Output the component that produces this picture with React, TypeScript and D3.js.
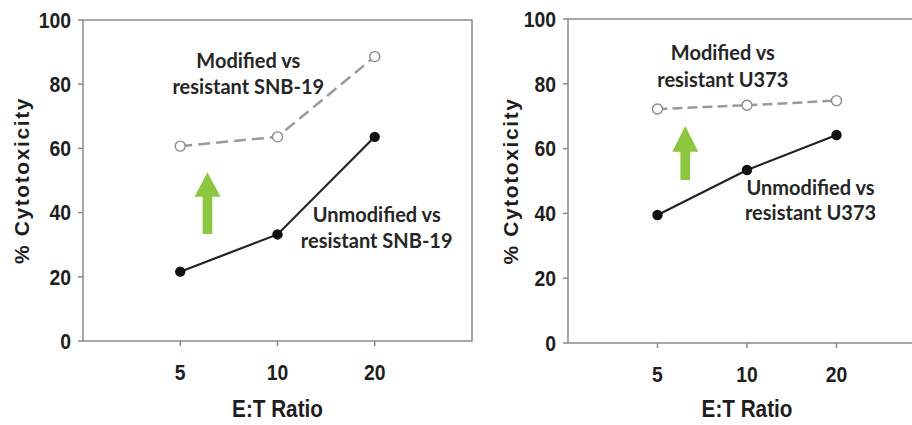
import React from "react";
import * as d3 from "d3";

const ratios = ["5", "10", "20"];
const yTicks = [0, 20, 40, 60, 80, 100];
const snbUnmodified = [21.6, 33.2, 63.6];
const snbModified = [60.7, 63.6, 88.6];
const u373Unmodified = [39.5, 53.4, 64.2];
const u373Modified = [72.2, 73.4, 74.8];
const snbLabels = ["Modified vs", "resistant SNB-19", "Unmodified vs", "resistant SNB-19"];
const u373Labels = ["Modified vs", "resistant U373", "Unmodified vs", "resistant U373"];
const yTitle = "% Cytotoxicity";
const xTitle = "E:T Ratio";

type Ann = { i: number; v: number; gap: number };
type PanelProps = {
  x0: number; x1: number; y0: number; y1: number; yTitleX: number; xTitleY: number;
  unmod: number[]; mod: number[]; labels: string[];
  modAnn: Ann; unmodAnn: Ann;
  arrow: { i: number; tip: number; base: number; bottom: number };
  dash: string;
};

const AXIS = "#8a8a8a";
const TXT = "#1e1e1e";
const tickFont = "'Liberation Sans', Arial, sans-serif";
const annFont = "Lato, 'Open Sans', sans-serif";

function Panel(p: PanelProps) {
  const xi = d3.scaleLinear().domain([-1, ratios.length]).range([p.x0, p.x1]);
  const y = d3.scaleLinear().domain([0, 100]).range([p.y1, p.y0]);
  const line = d3.line<number>().x((_, i) => xi(i)).y((v) => y(v));
  const shaftHalf = 4.8;
  const headHalf = 13;
  const ax = xi(p.arrow.i);
  const arrowPath = `M${ax},${y(p.arrow.tip)} L${ax + headHalf},${y(p.arrow.base)} L${ax + shaftHalf},${y(p.arrow.base)} L${ax + shaftHalf},${y(p.arrow.bottom)} L${ax - shaftHalf},${y(p.arrow.bottom)} L${ax - shaftHalf},${y(p.arrow.base)} L${ax - headHalf},${y(p.arrow.base)} Z`;
  const annStyle = { fontFamily: annFont, fontWeight: 700, fontSize: 20, fill: "#262626" } as const;
  return (
    <g>
      <rect x={p.x0} y={p.y0} width={p.x1 - p.x0} height={p.y1 - p.y0} fill="none" stroke={AXIS} strokeWidth={1.5} />
      {yTicks.map((t) => (
        <g key={t}>
          <line x1={p.x0 - 5} x2={p.x0} y1={y(t)} y2={y(t)} stroke={AXIS} strokeWidth={1.5} />
          <text transform={`translate(${p.x0 - 12},${y(t)}) scale(0.9,1)`} dy="0.36em" textAnchor="end" fontFamily={tickFont} fontWeight={700} fontSize={21.5} fill={TXT}>{t}</text>
        </g>
      ))}
      {ratios.map((r, i) => (
        <g key={r}>
          <line x1={xi(i)} x2={xi(i)} y1={p.y1} y2={p.y1 + 5} stroke={AXIS} strokeWidth={1.5} />
          <text transform={`translate(${xi(i)},${p.y1 + 31}) scale(0.9,1)`} dy="0.36em" textAnchor="middle" fontFamily={tickFont} fontWeight={700} fontSize={21.5} fill={TXT}>{r}</text>
        </g>
      ))}
      <text transform={`translate(${xi(1)},${p.xTitleY}) scale(0.9,1)`} dy="0.36em" textAnchor="middle" fontFamily={tickFont} fontWeight={700} fontSize={23} fill={TXT}>{xTitle}</text>
      <text transform={`translate(${p.yTitleX},${(p.y0 + p.y1) / 2}) rotate(-90)`} dy="0.36em" textAnchor="middle" fontFamily={tickFont} fontWeight={700} fontSize={21} letterSpacing={1.6} fill={TXT}>{yTitle}</text>
      <path d={line(p.mod) || ""} fill="none" stroke="#9a9a9a" strokeWidth={2.5} strokeDasharray={p.dash} />
      <path d={line(p.unmod) || ""} fill="none" stroke="#222" strokeWidth={2.2} />
      {p.mod.map((v, i) => (
        <circle key={"m" + i} cx={xi(i)} cy={y(v)} r={5} fill="#fff" stroke="#8a8a8a" strokeWidth={1.4} />
      ))}
      {p.unmod.map((v, i) => (
        <circle key={"u" + i} cx={xi(i)} cy={y(v)} r={5.2} fill="#111" />
      ))}
      <path d={arrowPath} fill="#8dc63f" />
      <text y={y(p.modAnn.v)} textAnchor="middle" style={annStyle}>
        <tspan x={xi(p.modAnn.i)} dy="0">{p.labels[0]}</tspan>
        <tspan x={xi(p.modAnn.i)} dy={p.modAnn.gap}>{p.labels[1]}</tspan>
      </text>
      <text y={y(p.unmodAnn.v)} textAnchor="middle" style={annStyle}>
        <tspan x={xi(p.unmodAnn.i)} dy="0">{p.labels[2]}</tspan>
        <tspan x={xi(p.unmodAnn.i)} dy={p.unmodAnn.gap}>{p.labels[3]}</tspan>
      </text>
    </g>
  );
}

export default function App() {
  return (
    <svg width={912} height={425} style={{ position: "absolute", left: 0, top: 0, background: "#fff" }}>
      <Panel
        x0={83} x1={472} y0={20} y1={341} yTitleX={21} xTitleY={409}
        unmod={snbUnmodified} mod={snbModified} labels={snbLabels}
        modAnn={{ i: 0.7, v: 84.9, gap: 26 }}
        unmodAnn={{ i: 2.02, v: 37.1, gap: 26 }}
        arrow={{ i: 0.28, tip: 52.6, base: 44.9, bottom: 33.3 }}
        dash="12,6"
      />
      <Panel
        x0={568} x1={926} y0={19} y1={343} yTitleX={510} xTitleY={409}
        unmod={u373Unmodified} mod={u373Modified} labels={u373Labels}
        modAnn={{ i: 0.73, v: 87.2, gap: 27 }}
        unmodAnn={{ i: 1.71, v: 45.8, gap: 25 }}
        arrow={{ i: 0.31, tip: 67, base: 59, bottom: 50.3 }}
        dash="10,5"
      />
    </svg>
  );
}
